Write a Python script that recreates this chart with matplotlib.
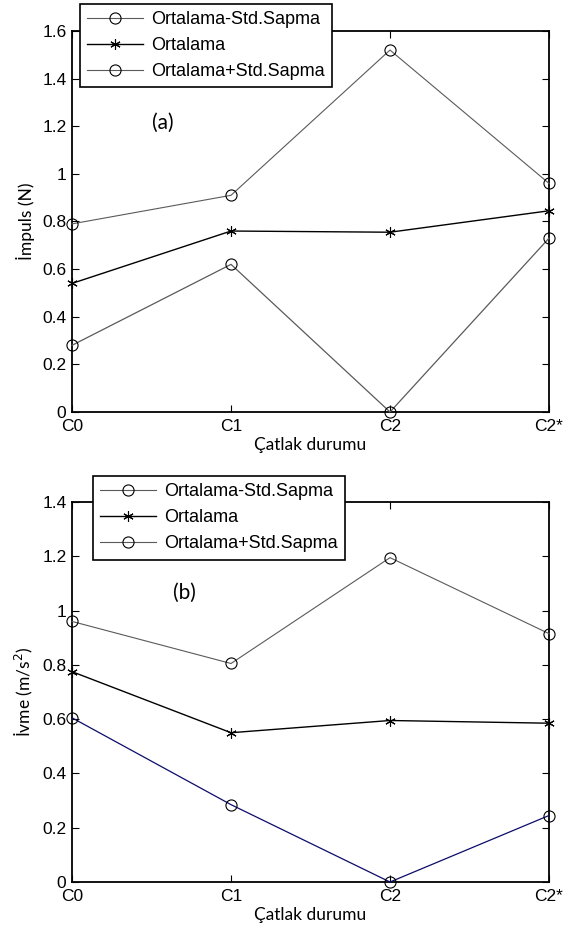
import matplotlib
matplotlib.use("Agg")
import matplotlib.pyplot as plt
import matplotlib.lines as mlines
import numpy as np

categories = ["C0", "C1", "C2", "C2*"]

# Panel (a) Impuls
a_minus = [0.28, 0.62, 0.0, 0.73]
a_mean = [0.54, 0.76, 0.755, 0.845]
a_plus = [0.79, 0.91, 1.52, 0.96]
a_yticks = [0, 0.2, 0.4, 0.6, 0.8, 1.0, 1.2, 1.4, 1.6]
a_yticklabels = ["0", "0.2", "0.4", "0.6", "0.8", "1", "1.2", "1.4", "1.6"]

# Panel (b) Ivme
b_minus = [0.605, 0.285, 0.0, 0.245]
b_mean = [0.775, 0.55, 0.595, 0.585]
b_plus = [0.96, 0.805, 1.195, 0.915]
b_yticks = [0, 0.2, 0.4, 0.6, 0.8, 1.0, 1.2, 1.4]
b_yticklabels = ["0", "0.2", "0.4", "0.6", "0.8", "1", "1.2", "1.4"]

legend_labels = ["Ortalama-Std.Sapma", "Ortalama", "Ortalama+Std.Sapma"]

W, H = 565, 938
fig = plt.figure(figsize=(W / 100, H / 100), dpi=100)

tick_font = "Liberation Sans"
label_font = "Lato"

def fc(x0, y0, x1, y1):
    return [x0 / W, 1 - y1 / H, (x1 - x0) / W, (y1 - y0) / H]

def setup(ax, ylim, yticks, ylabels, ylabel, tag, tagxy, leg_anchor, minus, mean, plus, minus_color):
    x = np.arange(len(categories))
    star = (6, 2, 0)
    ax.plot(x, minus, color=minus_color, lw=0.9, marker="o", ms=8,
            mfc="none", mec="black", mew=0.8, clip_on=False, zorder=3)
    ax.plot(x, mean, color="black", lw=1.0, marker=star, ms=7.5,
            mec="black", mew=0.8, clip_on=False, zorder=3)
    ax.plot(x, plus, color="#5a5a5a", lw=0.8, marker="o", ms=8,
            mfc="none", mec="black", mew=0.8, clip_on=False, zorder=3)
    ax.set_xlim(0, 3)
    ax.set_ylim(*ylim)
    ax.set_xticks(x)
    ax.set_xticklabels(categories, fontfamily=tick_font, fontsize=12.5)
    ax.set_yticks(yticks)
    ax.set_yticklabels(ylabels, fontfamily=tick_font, fontsize=12.5)
    ax.tick_params(direction="in", length=5, width=0.8, top=True, right=True,
                   pad=4, colors="black")
    ax.tick_params(axis="x", pad=5)
    for s in ax.spines.values():
        s.set_linewidth(1.3)
        s.set_color("black")
    ax.set_ylabel(ylabel, fontfamily=label_font, fontsize=12.5, labelpad=5)
    ax.set_xlabel("Çatlak durumu", fontfamily=label_font, fontsize=12.5, labelpad=2)
    ax.text(tagxy[0], tagxy[1], tag, transform=ax.transAxes, fontfamily=label_font,
            fontsize=15, ha="center", va="center")
    h1 = mlines.Line2D([], [], color="#5a5a5a", lw=0.8, marker="o", ms=8,
                       mfc="none", mec="black", mew=0.8)
    h2 = mlines.Line2D([], [], color="black", lw=1.0, marker=star, ms=7.5,
                       mec="black", mew=0.8)
    h3 = mlines.Line2D([], [], color="#5a5a5a", lw=0.8, marker="o", ms=8,
                       mfc="none", mec="black", mew=0.8)
    leg = ax.legend([h1, h2, h3], legend_labels, loc="upper left",
                    bbox_to_anchor=leg_anchor, borderaxespad=0, fancybox=False,
                    framealpha=1, edgecolor="black", handlelength=3.1,
                    handletextpad=0.45, labelspacing=0.5, borderpad=0.4,
                    prop={"family": tick_font, "size": 13})
    leg.get_frame().set_linewidth(1.2)
    leg.set_zorder(5)

ax1 = fig.add_axes(fc(72, 31, 549, 412))
setup(ax1, (0, 1.6), a_yticks, a_yticklabels, "İmpuls (N)", "(a)", (0.19, 0.76),
      ((80 - 72) / 477, (412 - 4) / 381), a_minus, a_mean, a_plus, "#5a5a5a")

ax2 = fig.add_axes(fc(72, 502, 549, 882))
setup(ax2, (0, 1.4), b_yticks, b_yticklabels, "İvme (m/s$^2$)", "(b)", (0.235, 0.76),
      ((93 - 72) / 477, (882 - 476) / 380), b_minus, b_mean, b_plus, "#0c0c6a")

fig.savefig("out.png", dpi=100)
